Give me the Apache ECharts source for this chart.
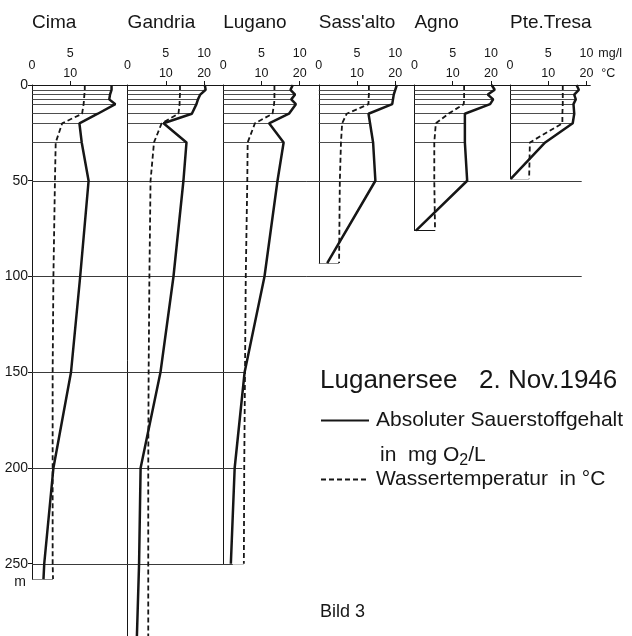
<!DOCTYPE html>
<html>
<head>
<meta charset="utf-8">
<script src="https://cdn.jsdelivr.net/npm/echarts@6/dist/echarts.min.js"></script>
<style>
  html, body { margin: 0; padding: 0; background: #fff; }
  #chart { width: 632px; height: 636px; }
</style>
</head>
<body>
<div id="chart"></div>
<script>
// stations, left to right
const stations = ['Cima', 'Gandria', 'Lugano', "Sass'alto", 'Agno', 'Pte.Tresa']
const bottomDepth = [258, 290, 250, 93, 76, 49]
const sampleDepths = [2.5, 5, 7.5, 10, 15, 20, 30]

// depth (m), O2 (mg/l), temperature (°C)
const cimaDepth = [0, 2.5, 5, 7.5, 10, 15, 20, 30, 50, 100, 150, 200, 250, 258]
const cimaO2 = [10.4, 10.4, 10.2, 10.1, 10.9, 8.6, 6.2, 6.5, 7.4, 6.3, 5.1, 2.8, 1.6, 1.5]
const cimaTemp = [13.8, 13.8, 13.7, 13.6, 13.5, 13.1, 7.9, 6.2, 6.0, 5.6, 5.4, 5.4, 5.4, 5.5]

const gandriaDepth = [0, 2.5, 5, 7.5, 10, 15, 20, 30, 50, 100, 150, 200, 250, 290]
const gandriaO2 = [10.1, 10.2, 9.5, 9.2, 9.0, 8.4, 4.7, 7.7, 7.3, 6.0, 4.3, 1.7, 1.5, 1.2]
const gandriaTemp = [13.7, 13.7, 13.7, 13.6, 13.6, 13.3, 8.9, 6.9, 6.0, 5.7, 5.5, 5.4, 5.4, 5.4]

const luganoDepth = [0, 2.5, 5, 7.5, 10, 15, 20, 30, 50, 100, 150, 200, 250]
const luganoO2 = [9.1, 8.8, 9.4, 8.9, 9.5, 8.6, 6.0, 7.9, 7.1, 5.4, 2.8, 1.5, 1.0]
const luganoTemp = [13.4, 13.4, 13.4, 13.4, 13.3, 12.9, 8.3, 6.4, 6.3, 5.9, 5.7, 5.5, 5.4]

const sassaltoDepth = [0, 2.5, 5, 7.5, 10, 15, 20, 30, 50, 93]
const sassaltoO2 = [10.2, 10.0, 9.8, 9.7, 9.6, 6.5, 6.7, 7.1, 7.4, 1.1]
const sassaltoTemp = [13.1, 13.1, 13.1, 13.0, 13.0, 7.3, 6.1, 5.8, 5.5, 5.3]

const agnoDepth = [0, 2.5, 5, 7.5, 10, 15, 20, 30, 50, 76]
const agnoO2 = [10.1, 10.5, 9.6, 10.3, 9.9, 6.6, 6.6, 6.6, 6.9, 0.2]
const agnoTemp = [13.0, 13.0, 13.0, 13.0, 12.9, 8.9, 5.6, 5.2, 5.2, 5.4]

const tresaDepth = [0, 2.5, 5, 7.5, 10, 15, 20, 30, 49]
const tresaO2 = [8.7, 9.0, 8.4, 8.6, 8.3, 8.4, 8.2, 4.6, 0.1]
const tresaTemp = [13.8, 13.8, 13.8, 13.8, 13.8, 13.7, 13.7, 5.2, 5.0]

const profiles = [
  [cimaDepth, cimaO2, cimaTemp],
  [gandriaDepth, gandriaO2, gandriaTemp],
  [luganoDepth, luganoO2, luganoTemp],
  [sassaltoDepth, sassaltoO2, sassaltoTemp],
  [agnoDepth, agnoO2, agnoTemp],
  [tresaDepth, tresaO2, tresaTemp]
]

// tick labels
const depthTicks = [0, 50, 100, 150, 200, 250]
const tempTicks = [0, 10, 20]
const o2Ticks = [5, 10]

// long depth lines across the station columns: depth, how many columns they run
const longLineDepth = [50, 100, 150, 200, 250]
const longLineColumns = [5.75, 5.75, 2.23, 2.2, 2.1]

const O2_NAME = 'Absoluter Sauerstoffgehalt'
const TEMP_NAME = 'Wassertemperatur  in °C'

// layout
const FONT = 'Liberation Sans'
const INK = '#161616'
const LEFT = 32
const STEP = 95.6
const TOP = 85
const PX_PER_M = 1.915
const PX_PER_C = STEP / 25
const tempMax = [25, 25, 25, 25, 25, 21]

const grid = []
const xAxis = []
const yAxis = []
const series = []

stations.forEach((name, i) => {
  const [depth, o2, temp] = profiles[i]
  const isFirst = i === 0
  const isLast = i === stations.length - 1
  grid.push({
    left: LEFT + i * STEP,
    top: TOP,
    width: tempMax[i] * PX_PER_C,
    height: bottomDepth[i] * PX_PER_M,
    outerBoundsMode: 'none'
  })
  // °C axis (carries the top line)
  xAxis.push({
    gridIndex: i,
    type: 'value',
    position: 'top',
    min: 0,
    max: tempMax[i],
    axisLine: { show: true, lineStyle: { color: INK, width: 1 } },
    axisTick: { show: true, length: 4, customValues: isFirst ? [10] : [10, 20], lineStyle: { color: INK } },
    axisLabel: {
      customValues: isFirst ? tempTicks.slice(0, 2) : tempTicks,
      margin: 5,
      fontSize: 12.5,
      fontFamily: FONT,
      color: INK,
      formatter: v => (v === 0 ? '{z|0}' : String(v)),
      rich: { z: { fontSize: 12.5, fontFamily: FONT, color: INK, padding: [0, 0, 8, 0] } }
    },
    splitLine: { show: false },
    name: isLast ? '°C' : '',
    nameLocation: 'end',
    nameGap: 11,
    nameTextStyle: { fontSize: 12.5, fontFamily: FONT, color: INK, align: 'left', verticalAlign: 'bottom', padding: [0, 0, 5, 0] }
  })
  // mg/l axis
  xAxis.push({
    gridIndex: i,
    type: 'value',
    position: 'top',
    offset: 20,
    min: 0,
    max: tempMax[i] / 2,
    axisLine: { show: false },
    axisTick: { show: false },
    axisLabel: {
      customValues: isFirst ? o2Ticks.slice(0, 1) : o2Ticks,
      margin: 5,
      fontSize: 12.5,
      fontFamily: FONT,
      color: INK
    },
    splitLine: { show: false },
    name: isLast ? 'mg/l' : '',
    nameLocation: 'end',
    nameGap: 8,
    nameTextStyle: { fontSize: 12.5, fontFamily: FONT, color: INK, align: 'left', verticalAlign: 'bottom', padding: [0, 0, 5, 0] }
  })
  yAxis.push({
    gridIndex: i,
    type: 'value',
    inverse: true,
    min: 0,
    max: bottomDepth[i],
    axisLine: { show: true, lineStyle: { color: INK, width: 1 } },
    axisTick: { show: isFirst, length: 4, customValues: depthTicks, lineStyle: { color: INK } },
    axisLabel: { show: isFirst, customValues: depthTicks, margin: 4, fontSize: 14, fontFamily: FONT, color: INK },
    splitLine: { show: false },
    name: isFirst ? 'm' : '',
    nameLocation: 'end',
    nameGap: 3,
    nameTextStyle: { fontSize: 14, fontFamily: FONT, color: INK, align: 'right', verticalAlign: 'middle', padding: [0, 6, 0, 0] }
  })

  // thin sample-depth lines from the axis to the O2 curve
  series.push({
    type: 'lines',
    coordinateSystem: 'cartesian2d',
    xAxisIndex: 2 * i + 1,
    yAxisIndex: i,
    silent: true,
    lineStyle: { color: '#3a3a3a', width: 0.9, opacity: 1 },
    data: sampleDepths
      .filter(d => depth.indexOf(d) >= 0)
      .map(d => ({ coords: [[0, d], [o2[depth.indexOf(d)], d]] }))
  })
  // bottom closing line, axis to temperature
  series.push({
    type: 'lines',
    coordinateSystem: 'cartesian2d',
    xAxisIndex: 2 * i,
    yAxisIndex: i,
    silent: true,
    lineStyle: { color: INK, width: 1, opacity: 1 },
    data: [{ coords: [[0, bottomDepth[i]], [temp[temp.length - 1], bottomDepth[i]]] }]
  })
  series.push({
    name: TEMP_NAME,
    type: 'line',
    xAxisIndex: 2 * i,
    yAxisIndex: i,
    symbol: 'none',
    itemStyle: { color: INK },
    lineStyle: { color: INK, width: 1.8, type: [5, 3] },
    data: depth.map((d, k) => [temp[k], d])
  })
  series.push({
    name: O2_NAME,
    type: 'line',
    xAxisIndex: 2 * i + 1,
    yAxisIndex: i,
    symbol: 'none',
    itemStyle: { color: INK },
    lineStyle: { color: INK, width: 2.5 },
    data: depth.map((d, k) => [o2[k], d])
  })
})

// background grid for the long depth lines, in station columns
const bg = stations.length
grid.push({ left: LEFT, top: TOP, width: stations.length * STEP, height: bottomDepth[0] * PX_PER_M, outerBoundsMode: 'none' })
xAxis.push({ gridIndex: bg, type: 'value', min: 0, max: stations.length, show: false })
yAxis.push({ gridIndex: bg, type: 'value', inverse: true, min: 0, max: bottomDepth[0], show: false })
series.push({
  type: 'lines',
  coordinateSystem: 'cartesian2d',
  xAxisIndex: 2 * stations.length,
  yAxisIndex: bg,
  silent: true,
  lineStyle: { color: '#3a3a3a', width: 1, opacity: 1 },
  data: longLineDepth.map((d, k) => ({ coords: [[0, d], [longLineColumns[k], d]] }))
})

const titles = stations.map((name, i) => ({
  text: name,
  left: LEFT + i * STEP,
  top: 13,
  padding: 0,
  textStyle: { fontSize: 19, fontWeight: 'normal', fontFamily: FONT, color: INK }
}))
titles.push({
  text: 'Luganersee   2. Nov.1946',
  left: 320, top: 368, padding: 0,
  textStyle: { fontSize: 26, fontWeight: 'normal', fontFamily: FONT, color: INK }
})
titles.push({
  text: 'in  mg O{s|2}/L',
  left: 380, top: 441, padding: 0,
  textStyle: {
    fontSize: 21, fontWeight: 'normal', fontFamily: FONT, color: INK,
    rich: { s: { fontSize: 16, fontFamily: FONT, color: INK, padding: [12, 0, 0, 0] } }
  }
})
titles.push({
  text: 'Bild 3',
  left: 320, top: 603, padding: 0,
  textStyle: { fontSize: 18, fontWeight: 'normal', fontFamily: FONT, color: INK }
})

const legendBase = {
  orient: 'vertical',
  left: 320,
  padding: 0,
  itemWidth: 48,
  itemHeight: 14,
  itemGap: 10,
  selectedMode: false,
  itemStyle: { opacity: 0 },
  textStyle: { fontSize: 21, fontFamily: FONT, color: INK, padding: [0, 0, 0, 2] }
}

const option = {
  animation: false,
  backgroundColor: '#fff',
  textStyle: { fontFamily: FONT, color: INK },
  title: titles,
  legend: [
    Object.assign({}, legendBase, { top: 410, data: [O2_NAME] }),
    Object.assign({}, legendBase, { top: 469, data: [TEMP_NAME] })
  ],
  grid,
  xAxis,
  yAxis,
  series
}

const chart = echarts.init(document.getElementById('chart'), null, { renderer: 'canvas' })
chart.setOption(option)
</script>
</body>
</html>
